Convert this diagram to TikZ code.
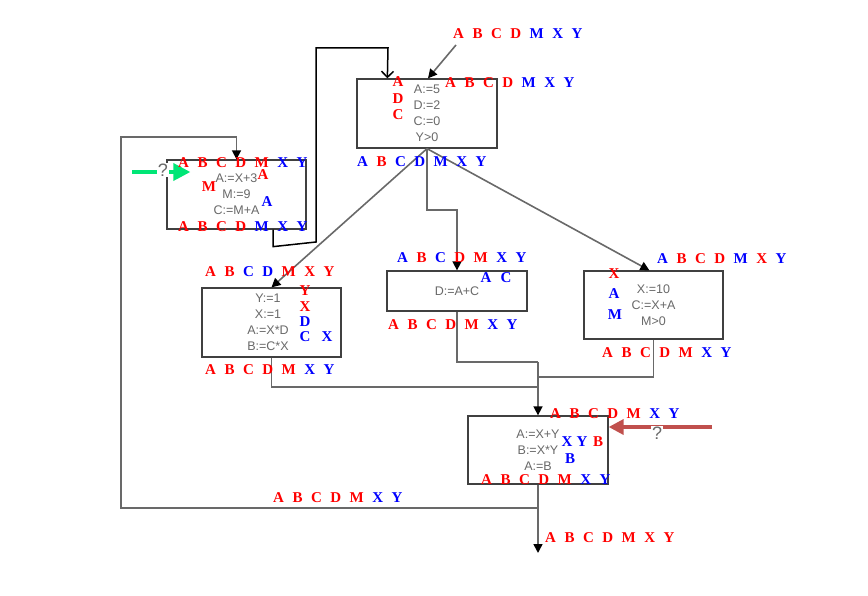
\documentclass[tikz,border=0pt]{standalone}
\usepackage{fontspec}
\usetikzlibrary{arrows.meta,calc}
\newfontfamily\labfont{Liberation Serif}
\newfontfamily\boxfont{Liberation Sans}
\definecolor{lr}{RGB}{255,0,0}
\definecolor{lb}{RGB}{0,0,255}
\definecolor{conngray}{RGB}{105,105,105}
\definecolor{txtgray}{RGB}{105,105,105}
\definecolor{grn}{RGB}{0,230,118}
\definecolor{brn}{RGB}{192,80,77}
\newcommand\ltr[2]{\textcolor{#1}{#2}}
\newcommand\gp{\hspace{8.5pt}}
\newcommand\abc[7]{\ltr{#1}{A}\gp\ltr{#2}{B}\gp\ltr{#3}{C}\gp\ltr{#4}{D}\gp\ltr{#5}{M}\gp\ltr{#6}{X}\gp\ltr{#7}{Y}}
\begin{document}
\begin{tikzpicture}[x=1pt,y=-1pt,
  lab/.style={anchor=west,inner sep=0pt,font=\labfont\bfseries\fontsize{15}{15}\selectfont},
  one/.style={inner sep=0pt,font=\labfont\bfseries\fontsize{15}{15}\selectfont},
  stmt/.style={draw=black!75,line width=1.3pt,fill=white,font=\boxfont\fontsize{12.5}{16}\selectfont,text=txtgray,align=center,inner sep=0pt},
  conn/.style={draw=conngray,line width=1.6pt},
  tip/.style={-{Triangle[length=9pt,width=9pt,fill=black,color=black]}},
  qm/.style={font=\boxfont\fontsize{18}{18}\selectfont,text=txtgray,fill=white,inner sep=1pt}
]
\useasboundingbox (0,0) rectangle (868,596);

% boxes
\node[stmt,minimum width=140pt,minimum height=69pt] (b1) at (427,113.5) {A:=5\\D:=2\\C:=0\\Y>0};
\node[stmt,minimum width=139pt,minimum height=69pt] (b2) at (236.5,194.5) {A:=X+3\\M:=9\\C:=M+A};
\node[stmt,minimum width=139pt,minimum height=69pt] (b3) at (271.5,322.5) {\hspace*{-7pt}Y:=1\\\hspace*{-7pt}X:=1\\\hspace*{-7pt}A:=X*D\\\hspace*{-7pt}B:=C*X};
\node[stmt,minimum width=140pt,minimum height=40pt] (b4) at (457,291) {D:=A+C};
\node[stmt,minimum width=139pt,minimum height=68pt] (b5) at (653.5,305) {X:=10\\C:=X+A\\M>0};
\node[stmt,minimum width=140pt,minimum height=68pt] (b6) at (538,450) {A:=X+Y\\B:=X*Y\\A:=B};

% junction coordinates
\coordinate (in1) at (456,45);
\coordinate (j1) at (427,210);
\coordinate (j2) at (457,210);
\coordinate (m1) at (538,387);
\coordinate (m2) at (538,362);
\coordinate (m3) at (538,377);
\coordinate (m4) at (538,508);
\coordinate (lp1) at (121,508);
\coordinate (lp2) at (121,137);
\coordinate (lp3) at (236.5,137);
\coordinate (out) at (538,553);
\coordinate (k1) at (316,242);
\coordinate (k2) at (316,48);
\coordinate (k3) at (388,48);
\coordinate (g0) at (132,172);
\coordinate (r0) at (712,427);

% connectors
\draw[conn,tip] (in1) -- ($(b1.north)+(1,0)$);
\draw[conn,tip] (b1.south) -- (j1) -- (j2) -- (b4.north);
\draw[conn,tip] (b1.south) -- (b3.north);
\draw[conn,tip] (b1.south) -- ($(b5.north west)+(66,0)$);
\draw[conn] (b3.south) |- (m1);
\draw[conn] (b4.south) |- (m2);
\draw[conn] (b5.south) |- (m3);
\draw[conn,tip] (m2) -- (b6.north);
\draw[conn,tip] (b6.south) -- (out);
\draw[conn,tip] (m4) -- (lp1) -- (lp2) -- (lp3) -- (b2.north);
\draw[black,line width=1.5pt,-{Straight Barb[length=6pt,width=12pt]}] ($(b2.south)+(36.5,0)$) -- ++(0,17) -- (k1) -- (k2) -- (k3) -- ($(b1.north west)+(31,0)$);
\draw[grn,line width=3.5pt,-{Triangle[length=17pt,width=17pt]}] (g0) -- ($(b2.west)+(24,-22.5)$);
\draw[brn,line width=3.5pt,-{Triangle[length=15pt,width=15pt]}] (r0) -- ($(b6.east)+(0,-23)$);
\node[qm] (q1) at (163,170) {?};
\node[qm] (q2) at (657,433) {?};

% labels
\node[lab] (l1) at (453,34) {\abc{lr}{lr}{lr}{lr}{lb}{lb}{lb}};
\node[lab] (l2) at (445,83) {\abc{lr}{lr}{lr}{lr}{lb}{lb}{lb}};
\node[lab] (l3) at (357,162) {\abc{lb}{lr}{lb}{lb}{lb}{lb}{lb}};
\node[lab] (l4) at (178,163) {\abc{lr}{lr}{lr}{lr}{lr}{lb}{lb}};
\node[lab] (l5) at (178,227) {\abc{lr}{lr}{lr}{lr}{lb}{lb}{lb}};
\node[lab] (l6) at (205,272) {\abc{lr}{lr}{lb}{lb}{lr}{lr}{lr}};
\node[lab] (l7) at (205,370) {\abc{lr}{lr}{lr}{lr}{lr}{lb}{lb}};
\node[lab] (l8) at (397,258) {\abc{lb}{lr}{lb}{lr}{lr}{lb}{lb}};
\node[lab] (l9) at (388,325) {\abc{lr}{lr}{lr}{lr}{lr}{lb}{lb}};
\node[lab] (l10) at (657,259) {\abc{lb}{lr}{lr}{lr}{lb}{lr}{lb}};
\node[lab] (l11) at (602,353) {\abc{lr}{lr}{lr}{lr}{lr}{lb}{lb}};
\node[lab] (l12) at (550,414) {\abc{lr}{lr}{lr}{lr}{lr}{lb}{lb}};
\node[lab] (l13) at (481,480) {\abc{lr}{lr}{lr}{lr}{lr}{lb}{lb}};
\node[lab] (l14) at (273,498) {\abc{lr}{lr}{lr}{lr}{lr}{lb}{lb}};
\node[lab] (l15) at (545,538) {\abc{lr}{lr}{lr}{lr}{lr}{lr}{lr}};

% single letters
\node[one,text=lr] (s1) at (398,82) {A};
\node[one,text=lr] (s2) at (398,99) {D};
\node[one,text=lr] (s3) at (398,115) {C};
\node[one,text=lr] (s4) at (263,175) {A};
\node[one,text=lr] (s5) at (209,187) {M};
\node[one,text=lb] (s6) at (267,202) {A};
\node[one,text=lr] (s7) at (305,291) {Y};
\node[one,text=lr] (s8) at (305,307) {X};
\node[one,text=lb] (s9) at (305,322) {D};
\node[one,text=lb] (s10) at (305,337) {C};
\node[one,text=lb] (s11) at (327,337) {X};
\node[one,text=lb] (s12) at (486,278) {A};
\node[one,text=lb] (s13) at (506,278) {C};
\node[one,text=lr] (s14) at (614,274) {X};
\node[one,text=lb] (s15) at (614,294) {A};
\node[one,text=lb] (s16) at (615,315) {M};
\node[one,text=lb] (s17) at (567,442) {X};
\node[one,text=lb] (s18) at (582,442) {Y};
\node[one,text=lr] (s19) at (598,442) {B};
\node[one,text=lb] (s20) at (570,459) {B};
\end{tikzpicture}
\end{document}
